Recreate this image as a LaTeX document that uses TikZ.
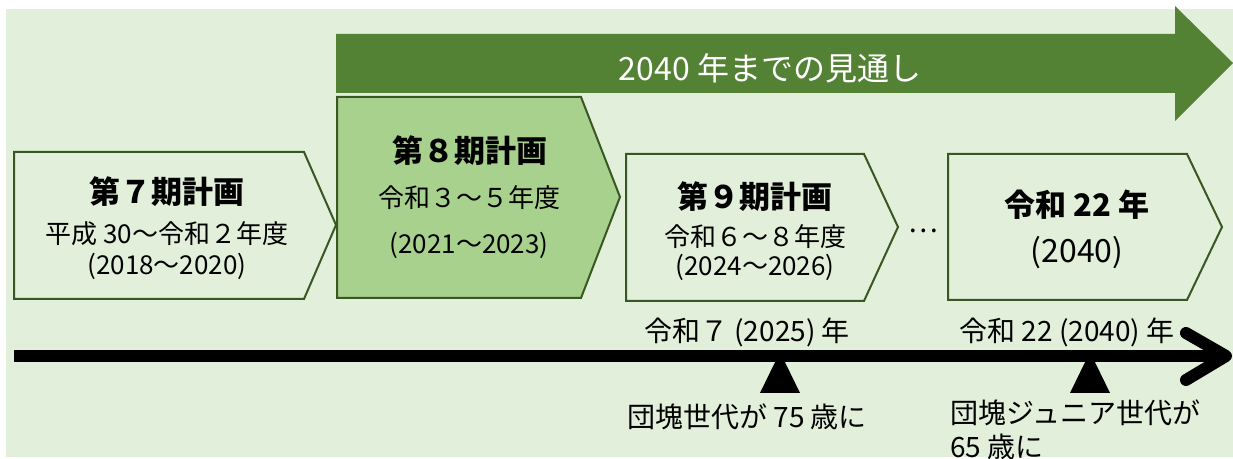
\documentclass[tikz,border=0pt]{standalone}
\usepackage{fontspec}
\setmainfont{Noto Sans CJK JP}
\usetikzlibrary{positioning}
\definecolor{bgreen}{HTML}{E2EFDA}
\definecolor{outlook}{HTML}{548235}
\definecolor{plangreen}{HTML}{A9D18E}
\definecolor{planline}{HTML}{385723}

\begin{document}
\begin{tikzpicture}[x=0.5pt,y=-0.5pt,line join=miter,
    plan/.style={draw=planline,line width=1pt,fill=bgreen},
    ttl/.style={font=\bfseries\fontsize{15.5}{18}\selectfont},
    sub/.style={font=\fontsize{13}{16}\selectfont},
    lbl/.style={font=\fontsize{14}{17}\selectfont}]
    \useasboundingbox (0,0) rectangle (1233,459);
    \fill[bgreen] (6,9) rectangle (1233,457);
    % outlook arrow
    \fill[outlook] (336,34) -- (1175,34) -- (1175,6) -- (1233,63) -- (1175,121) -- (1175,93) -- (336,93) -- cycle;
    \node[font=\fontsize{16}{19}\selectfont,text=white] (outlook) at (770,68) {2040 年までの見通し};
    % plan boxes
    \draw[plan] (14,152) -- (304,152) -- (336,225) -- (304,299) -- (14,299) -- cycle;
    \draw[plan,fill=plangreen] (337,97) -- (581,97) -- (620,197) -- (581,298) -- (337,298) -- cycle;
    \draw[plan] (626,154) -- (864,154) -- (898,227) -- (864,301) -- (626,301) -- cycle;
    \draw[plan] (948,154) -- (1187,154) -- (1222,227) -- (1187,300) -- (948,300) -- cycle;
    \node[ttl] (p7) at (167,192) {第７期計画};
    \node[sub] (p7y) at (167,234) {平成 30～令和２年度};
    \node[sub] (p7c) at (167,266) {(2018～2020)};
    \node[ttl] (p8) at (470,151) {第８期計画};
    \node[sub] (p8y) at (469,198) {令和３～５年度};
    \node[sub] (p8c) at (469,245) {(2021～2023)};
    \node[ttl] (p9) at (755,197) {第９期計画};
    \node[sub] (p9y) at (755,237) {令和６～８年度};
    \node[sub] (p9c) at (755,267) {(2024～2026)};
    \node[lbl] (dots) at (923,231) {…};
    \node[ttl] (r22) at (1077,205) {令和 22 年};
    \node[font=\fontsize{16}{19}\selectfont] (r22c) at (1077,253) {(2040)};
    % time line
    \coordinate (t0) at (14,356);
    \coordinate (t1) at (1226,356);
    \draw[line width=6pt] (t0) -- (t1);
    \draw[line width=6pt,line cap=round,line join=round] (1186,333) -- (t1) -- (1186,380);
    \fill (780,352) -- (800,393) -- (760,393) -- cycle;
    \fill (1090,352) -- (1110,393) -- (1070,393) -- cycle;
    \node[lbl] (y2025) at (747,332) {令和７ (2025) 年};
    \node[lbl] (y2040) at (1067,332) {令和 22 (2040) 年};
    \node[lbl] (boom) at (747,417) {団塊世代が 75 歳に};
    \node[lbl,anchor=west] (jr) at (943,413) {団塊ジュニア世代が};
    \node[lbl,anchor=west] (jr65) at (943,447) {65 歳に};
\end{tikzpicture}
\end{document}
